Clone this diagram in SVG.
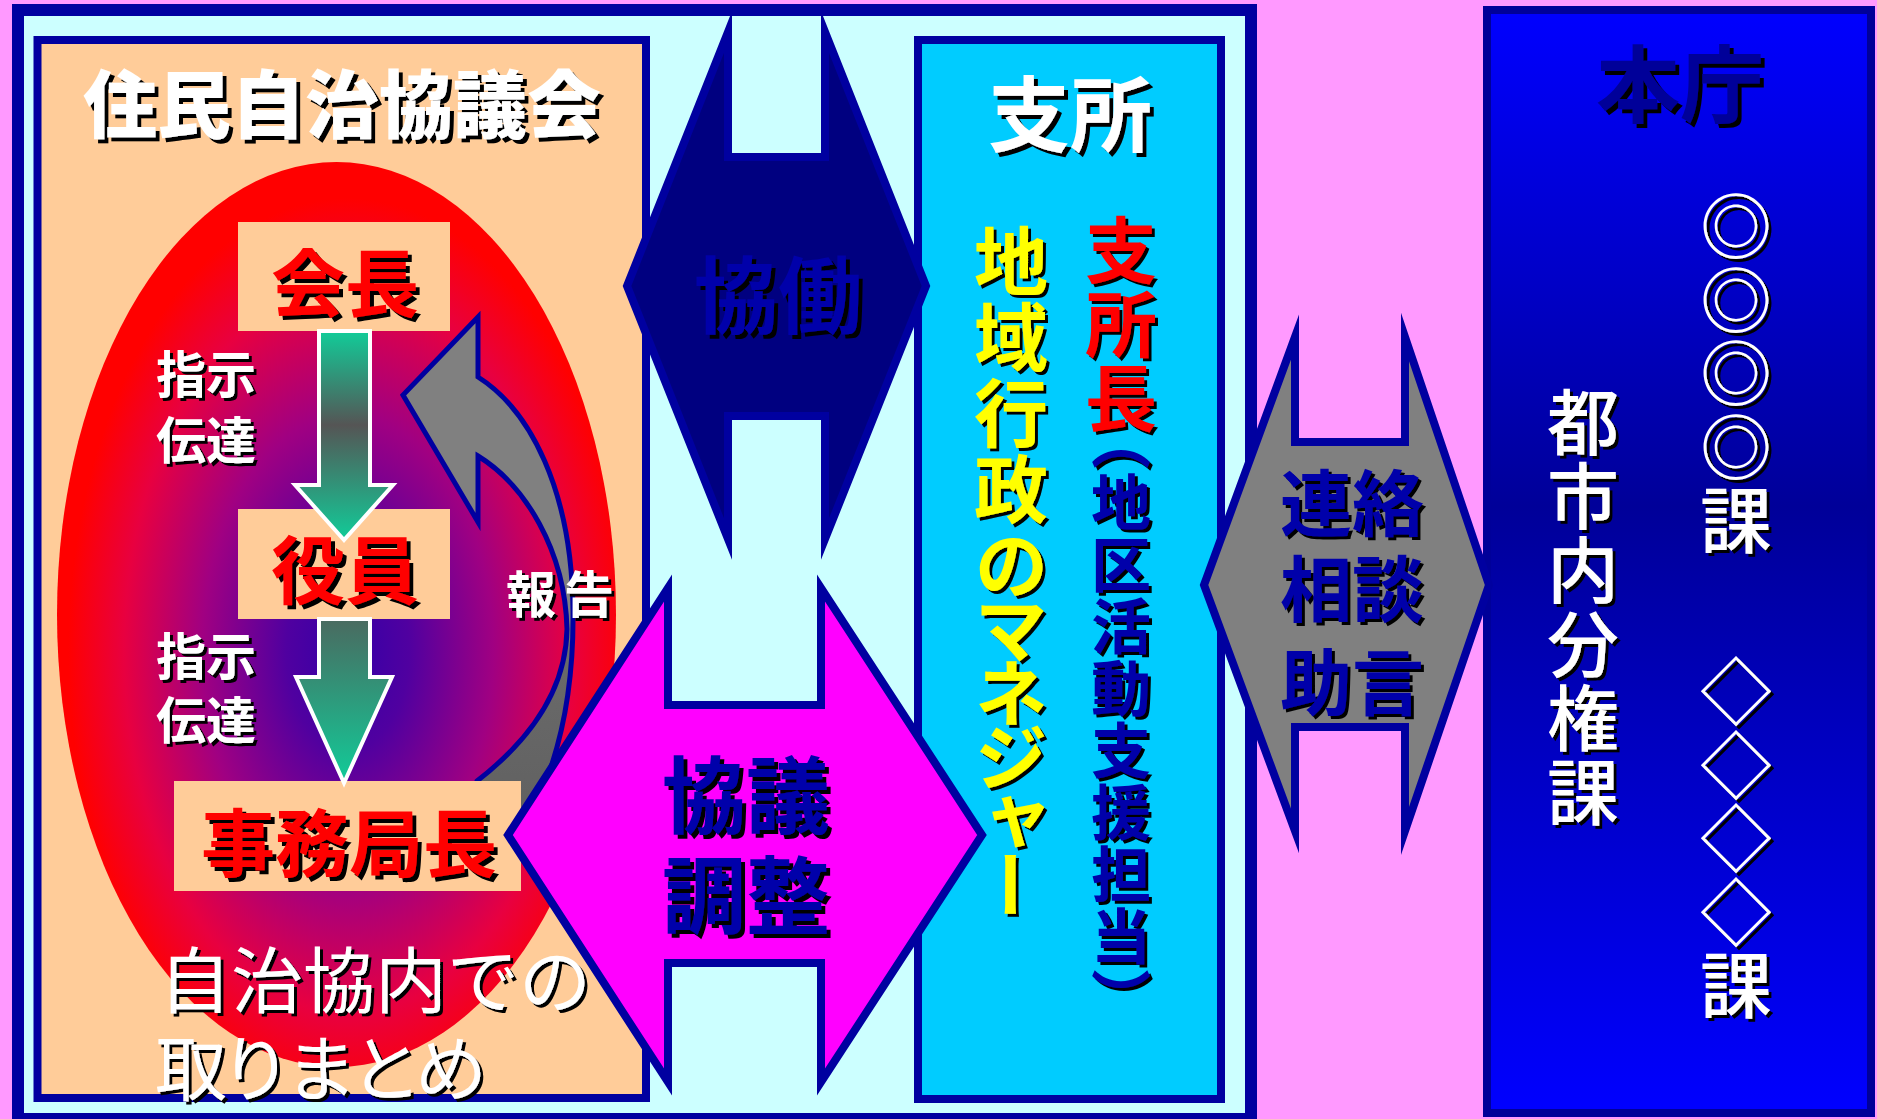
<svg xmlns="http://www.w3.org/2000/svg" width="1877" height="1119" viewBox="0 0 1877 1119">
<defs>
<style>
.t{font-family:"Noto Sans CJK JP","Noto Sans CJK SC",sans-serif;}
.b{font-weight:700}
.h{font-weight:900}
.m{font-weight:500}
.v{writing-mode:vertical-rl}
.mid{text-anchor:middle}
.dk{stroke:#0000A0}
.box{fill:#FFCC99}
.arr{stroke:#0000A0;stroke-width:8;stroke-miterlimit:10;stroke-linejoin:miter}
</style>
<filter id="sh4" x="-10%" y="-10%" width="130%" height="130%">
<feFlood flood-color="#000"/><feComposite in2="SourceAlpha" operator="in"/><feOffset dx="4" dy="4" result="s"/>
<feMerge><feMergeNode in="s"/><feMergeNode in="SourceGraphic"/></feMerge>
</filter>
<filter id="sh3" x="-10%" y="-10%" width="130%" height="130%">
<feFlood flood-color="#000"/><feComposite in2="SourceAlpha" operator="in"/><feOffset dx="3" dy="3" result="s"/>
<feMerge><feMergeNode in="s"/><feMergeNode in="SourceGraphic"/></feMerge>
</filter>
<radialGradient id="ell" cx="0.52" cy="0.54" r="0.5">
<stop offset="0" stop-color="#3300A8"/>
<stop offset="0.22" stop-color="#5000A0"/>
<stop offset="0.52" stop-color="#A00082"/>
<stop offset="0.8" stop-color="#E80040"/>
<stop offset="1" stop-color="#FF0000"/>
</radialGradient>
<linearGradient id="g1" x1="0" y1="0" x2="0" y2="1">
<stop offset="0" stop-color="#11CC99"/>
<stop offset="0.45" stop-color="#555555"/>
<stop offset="1" stop-color="#11CC99"/>
</linearGradient>
<linearGradient id="g2" x1="0" y1="0" x2="0" y2="1">
<stop offset="0" stop-color="#4A6A60"/>
<stop offset="1" stop-color="#11CC99"/>
</linearGradient>
<linearGradient id="gr" gradientUnits="userSpaceOnUse" x1="0" y1="317" x2="0" y2="830">
<stop offset="0" stop-color="#808080"/>
<stop offset="0.58" stop-color="#808080"/>
<stop offset="0.66" stop-color="#6A6A6A"/>
<stop offset="1" stop-color="#606060"/>
</linearGradient>
<linearGradient id="hon" x1="0" y1="0" x2="0" y2="1">
<stop offset="0" stop-color="#0000FF"/>
<stop offset="0.45" stop-color="#000099"/>
<stop offset="1" stop-color="#0000FF"/>
</linearGradient>
</defs>

<rect x="0" y="0" width="1877" height="1119" fill="#FF99FF"/>

<g id="outer-frame">
<rect x="18" y="10" width="1233" height="1109" fill="#CCFFFF" class="dk" stroke-width="12"/>
</g>

<g id="jichikyo">
<rect x="37.5" y="40" width="608.5" height="1058" fill="#FFCC99" class="dk" stroke-width="8"/>
<text class="t h mid" x="342" y="132" font-size="74" fill="#FFFFFF" filter="url(#sh4)">住民自治協議会</text>
<ellipse cx="336.5" cy="614.5" rx="279.5" ry="452.5" fill="url(#ell)"/>
</g>

<g id="connectors">
<path id="report-arrow" d="M478,377 C530,410 572,490 573,611 C574,700 556,775 520,835 L460,835 L477,781 C530,740 566,690 567,629 C565,550 525,485 478,456 L478,522 L403,395 L478,317 Z" fill="url(#gr)" stroke="#0000A0" stroke-width="5" stroke-linejoin="miter"/>
</g>

<g id="kaicho">
<rect class="box" x="238" y="222" width="212" height="109"/>
<text class="t b mid" x="345" y="311" font-size="74" fill="#FF0000" filter="url(#sh4)">会長</text>
</g>
<g id="yakuin">
<rect class="box" x="238" y="509" width="212" height="110"/>
<text class="t b mid" x="345" y="598" font-size="74" fill="#FF0000" filter="url(#sh4)">役員</text>
</g>
<g id="jimukyokucho">
<rect class="box" x="174" y="781" width="347" height="110"/>
<text class="t b mid" x="349" y="871" font-size="74" fill="#FF0000" filter="url(#sh4)">事務局長</text>
</g>

<g id="connectors2">
<path d="M319,331 L370,331 L370,485 L393,485 L344,540 L295,485 L319,485 Z" fill="url(#g1)" stroke="#FFFFFF" stroke-width="4"/>
<path d="M319,619 L370,619 L370,677 L392,677 L344,783 L296,677 L319,677 Z" fill="url(#g2)" stroke="#FFFFFF" stroke-width="4"/>
</g>

<g id="labels-left">
<text class="t b mid" font-size="50" fill="#FFFFFF" filter="url(#sh3)"><tspan x="206" y="393">指示</tspan><tspan x="206" y="459">伝達</tspan></text>
<text class="t b mid" font-size="50" fill="#FFFFFF" filter="url(#sh3)"><tspan x="206" y="675">指示</tspan><tspan x="206" y="739">伝達</tspan></text>
<text class="t b" x="506" y="613" font-size="50" fill="#FFFFFF" letter-spacing="8" filter="url(#sh3)">報告</text>
<text class="t" font-size="72" fill="#FFFFFF" filter="url(#sh3)"><tspan x="159" y="1007">自治協内での</tspan><tspan x="155" y="1095" letter-spacing="-7">取りまとめ</tspan></text>
</g>

<g id="shisho">
<rect x="918" y="40" width="303" height="1059" fill="#00CCFF" class="dk" stroke-width="8"/>
<text class="t b mid" x="1070" y="145" font-size="82" fill="#FFFFFF" filter="url(#sh4)">支所</text>
<text class="t b v" x="1121" y="214" filter="url(#sh3)"><tspan font-size="72" fill="#FF0000" letter-spacing="2">支所</tspan><tspan font-size="72" fill="#FF0000" letter-spacing="-24">長</tspan><tspan font-size="60" fill="#0000AA" letter-spacing="2">（地区活動支援担当）</tspan></text>
<text class="t b v" x="1011" y="224" font-size="74" fill="#FFFF00" filter="url(#sh3)"><tspan letter-spacing="2">地域行政</tspan><tspan letter-spacing="-10">のマネジャー</tspan></text>
</g>

<g id="honcho">
<rect x="1487" y="10" width="384" height="1103" fill="url(#hon)" stroke="#000099" stroke-width="8"/>
<text class="t b mid" x="1680" y="116" font-size="84" fill="#000099" filter="url(#sh4)">本庁</text>
<text class="t m v" x="1736" y="190" font-size="72" fill="#FFFFFF" letter-spacing="1.5" filter="url(#sh3)">◎◎◎◎課</text>
<text class="t m v" x="1736" y="655" font-size="72" fill="#FFFFFF" letter-spacing="1.5" filter="url(#sh3)">◇◇◇◇課</text>
<text class="t m v" x="1583" y="386" font-size="72" fill="#FFFFFF" letter-spacing="2" filter="url(#sh3)">都市内分権課</text>
</g>

<g id="kyodo">
<path class="arr" d="M728,32 L627,286 L728,539 L728,416 L825,416 L825,539 L926,286 L825,32 L825,157 L728,157 Z" fill="#000080"/>
<text class="t b mid" x="778" y="327" font-size="84" fill="#0000AA" filter="url(#sh4)">協働</text>
</g>

<g id="kyogi">
<path class="arr" d="M668,588 L508,835 L668,1082 L668,963 L821,963 L821,1082 L982,835 L821,588 L821,705 L668,705 Z" fill="#FF00FF"/>
<text class="t b mid" font-size="84" fill="#0000AA" filter="url(#sh4)"><tspan x="746" y="827">協議</tspan><tspan x="746" y="927">調整</tspan></text>
</g>

<g id="renraku">
<path class="arr" d="M1295,337 L1204,585 L1295,831 L1295,727 L1405,727 L1405,831 L1489,585 L1405,337 L1405,442 L1295,442 Z" fill="#808080"/>
<text class="t b mid" font-size="72" fill="#0000AA" filter="url(#sh3)"><tspan x="1352" y="530">連絡</tspan><tspan x="1352" y="616">相談</tspan><tspan x="1352" y="709">助言</tspan></text>
</g>
</svg>
